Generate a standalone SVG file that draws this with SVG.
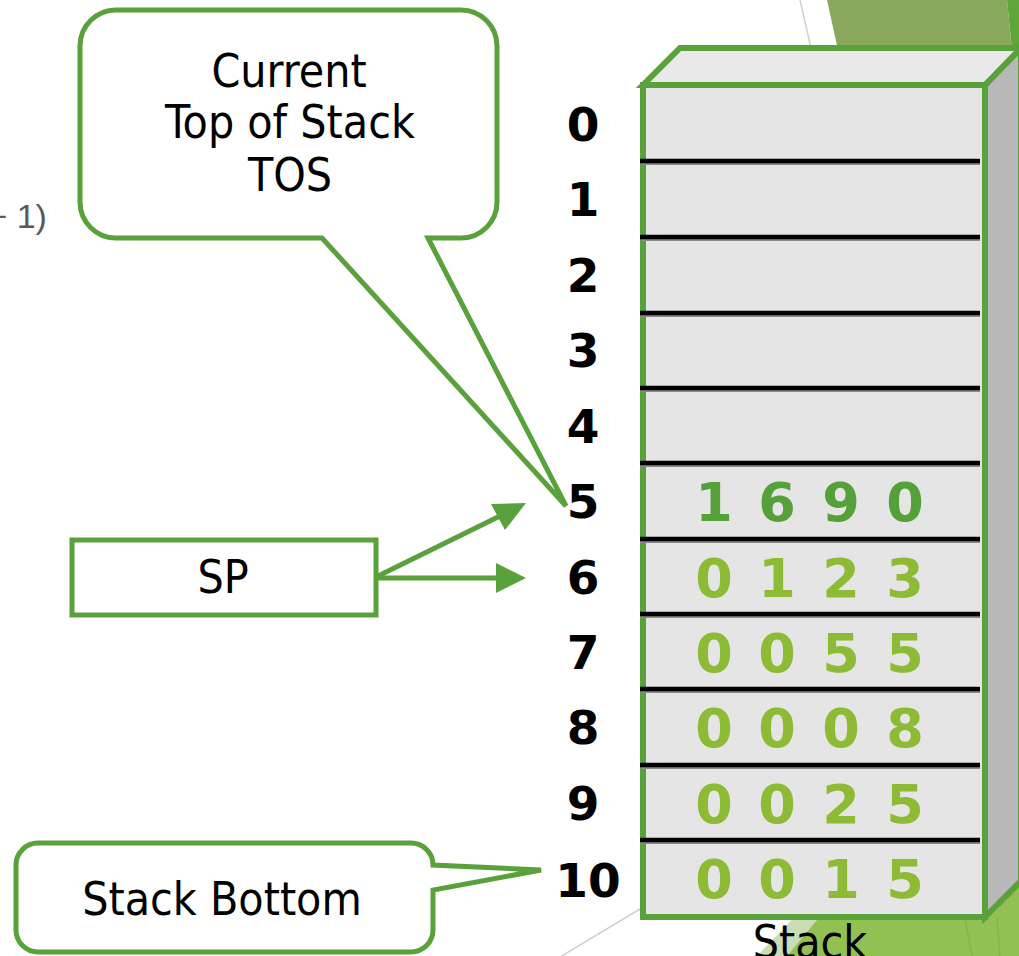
<svg xmlns="http://www.w3.org/2000/svg" width="1019" height="956" viewBox="0 0 1019 956">
  <style>
    .lbl { font-family: 'DejaVu Sans Condensed', 'DejaVu Sans', sans-serif; font-stretch: condensed; font-size: 46px; fill: #000; text-anchor: middle; }
    .idx { font-family: 'DejaVu Sans', sans-serif; font-weight: bold; font-size: 47px; fill: #000; text-anchor: middle; }
    .val { font-family: 'DejaVu Sans', sans-serif; font-weight: bold; font-size: 54px; fill: #8dbb35; text-anchor: middle; }
    .top { fill: #56a03a; }
    .callout { fill: #fff; stroke: #58a13b; stroke-width: 5; stroke-linejoin: miter; }
    .edge { stroke: #58a13b; stroke-width: 6; stroke-linejoin: miter; }
    .div { stroke: #000; stroke-width: 4.5; }
    .divs { stroke: #8a8a8a; stroke-width: 4; }
    .arrow { stroke: #58a13b; stroke-width: 5; fill: none; }
    .head { fill: #58a13b; }
  </style>

  <!-- background decoration -->
  <g id="backdrop">
    <rect x="0" y="0" width="1019" height="956" fill="#fff"/>
    <polygon points="827,0 1007,0 1012,50 838,50" fill="#8aa85c"/>
    <polygon points="1007,0 1019,0 1019,50 1012,50" fill="#5ea63c"/>
    <line x1="800" y1="0" x2="811" y2="48" stroke="#cfcfcf" stroke-width="1.5"/>
    <polygon points="757,956 787,956 850,880 830,880" fill="#c9ddb7"/>
    <polygon points="787,956 850,880 1019,860 1019,956" fill="#93c053"/>
    <line x1="965" y1="918" x2="972" y2="956" stroke="#86b548" stroke-width="1.5"/>
    <line x1="997" y1="918" x2="1000" y2="956" stroke="#86b548" stroke-width="1.5"/>
    <line x1="555" y1="960" x2="645" y2="906" stroke="#d0d0d0" stroke-width="1.5"/>
    <text x="-12.6" y="228" font-family="'Liberation Sans', Arial, sans-serif" font-size="34" fill="#595959">+ 1)</text>
  </g>

  <!-- the stack: a 3D box divided into 11 cells -->
  <g id="stack">
    <polygon class="edge" points="985,917 1021,881 1021,46 985,85" fill="#b8b8b8"/>
    <polygon class="edge" points="643,85 680,48 1021,48 985,85" fill="#e9e9e9"/>
    <rect class="edge" x="643" y="85" width="342" height="832" fill="#e5e5e5"/>
    <g id="dividers">
      <g class="divs">
        <line x1="640" y1="163" x2="980" y2="163"/>
        <line x1="640" y1="239" x2="980" y2="239"/>
        <line x1="640" y1="315" x2="980" y2="315"/>
        <line x1="640" y1="390" x2="980" y2="390"/>
        <line x1="640" y1="465" x2="980" y2="465"/>
        <line x1="640" y1="541" x2="980" y2="541"/>
        <line x1="640" y1="616" x2="980" y2="616"/>
        <line x1="640" y1="691" x2="980" y2="691"/>
        <line x1="640" y1="767" x2="980" y2="767"/>
        <line x1="640" y1="842" x2="980" y2="842"/>
      </g>
      <g class="div">
        <line x1="640" y1="161" x2="980" y2="161"/>
        <line x1="640" y1="237" x2="980" y2="237"/>
        <line x1="640" y1="313" x2="980" y2="313"/>
        <line x1="640" y1="388" x2="980" y2="388"/>
        <line x1="640" y1="463" x2="980" y2="463"/>
        <line x1="640" y1="539" x2="980" y2="539"/>
        <line x1="640" y1="614" x2="980" y2="614"/>
        <line x1="640" y1="689" x2="980" y2="689"/>
        <line x1="640" y1="765" x2="980" y2="765"/>
        <line x1="640" y1="840" x2="980" y2="840"/>
      </g>
    </g>
    <g id="cells">
      <text class="val top" y="521"><tspan x="714">1</tspan><tspan x="777">6</tspan><tspan x="841">9</tspan><tspan x="905">0</tspan></text>
      <text class="val" y="597"><tspan x="714">0</tspan><tspan x="777">1</tspan><tspan x="841">2</tspan><tspan x="905">3</tspan></text>
      <text class="val" y="672"><tspan x="714">0</tspan><tspan x="777">0</tspan><tspan x="841">5</tspan><tspan x="905">5</tspan></text>
      <text class="val" y="747"><tspan x="714">0</tspan><tspan x="777">0</tspan><tspan x="841">0</tspan><tspan x="905">8</tspan></text>
      <text class="val" y="823"><tspan x="714">0</tspan><tspan x="777">0</tspan><tspan x="841">2</tspan><tspan x="905">5</tspan></text>
      <text class="val" y="898"><tspan x="714">0</tspan><tspan x="777">0</tspan><tspan x="841">1</tspan><tspan x="905">5</tspan></text>
    </g>
    <text class="lbl" x="810" y="958">Stack</text>
  </g>

  <!-- cell indices -->
  <g id="indices">
    <text class="idx" x="583" y="141">0</text>
    <text class="idx" x="583" y="216">1</text>
    <text class="idx" x="583" y="292">2</text>
    <text class="idx" x="583" y="367">3</text>
    <text class="idx" x="583" y="443">4</text>
    <text class="idx" x="583" y="518">5</text>
    <text class="idx" x="583" y="594">6</text>
    <text class="idx" x="583" y="669">7</text>
    <text class="idx" x="583" y="744">8</text>
    <text class="idx" x="583" y="820">9</text>
    <text class="idx" x="588" y="897">10</text>
  </g>

  <!-- callout: top of stack -->
  <g id="tos-callout">
    <path class="callout" d="M116,10 H461 A36,36 0 0 1 497,46 V202 A36,36 0 0 1 461,238 H428 L566,506 L322,238 H116 A36,36 0 0 1 80,202 V46 A36,36 0 0 1 116,10 Z"/>
    <text class="lbl" x="289" y="87">Current</text>
    <text class="lbl" x="290" y="138">Top of Stack</text>
    <text class="lbl" x="290" y="191">TOS</text>
  </g>

  <!-- stack pointer box -->
  <g id="sp">
    <rect x="72" y="540" width="304" height="75" fill="#fff" stroke="#58a13b" stroke-width="5"/>
    <text class="lbl" x="223" y="593">SP</text>
  </g>

  <!-- callout: stack bottom -->
  <g id="bottom-callout">
    <path class="callout" d="M38,843 H411 A22,22 0 0 1 433,865 L541,870 L433,890 V930 A22,22 0 0 1 411,952 H38 A22,22 0 0 1 16,930 V865 A22,22 0 0 1 38,843 Z"/>
    <text class="lbl" x="222" y="915">Stack Bottom</text>
  </g>

  <!-- connectors -->
  <g id="connectors">
    <line class="arrow" x1="376" y1="578" x2="498" y2="578"/>
    <polygon class="head" points="526,578 496,563 496,593"/>
    <line class="arrow" x1="378" y1="576" x2="500" y2="516"/>
    <polygon class="head" points="526,503 491,504 505,530"/>
  </g>
</svg>
